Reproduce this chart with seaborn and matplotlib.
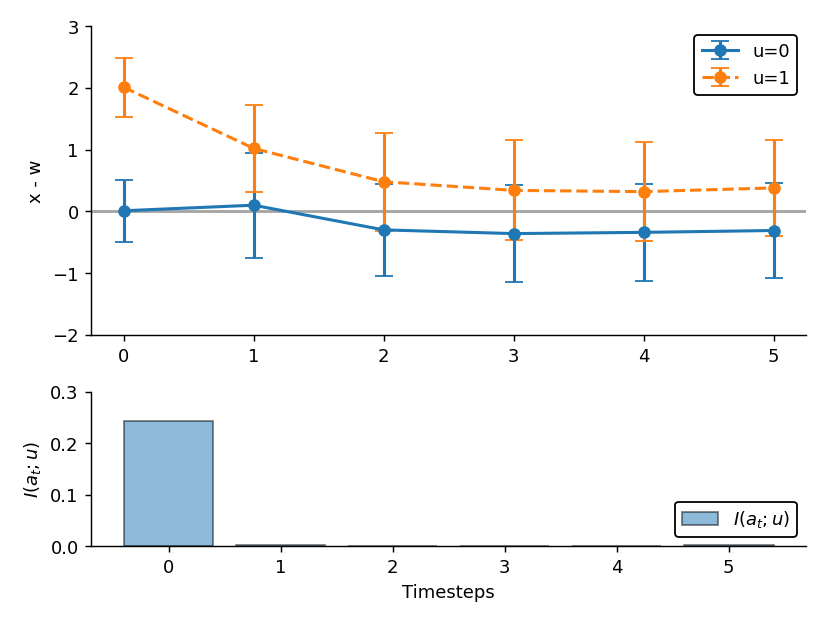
import numpy as np
import matplotlib
matplotlib.use("Agg")
import matplotlib.pyplot as plt
import seaborn as sns
import pandas as pd

# data
timesteps = [0, 1, 2, 3, 4, 5]
mean_u0 = [0.01, 0.10, -0.30, -0.36, -0.34, -0.31]
err_u0 = [0.50, 0.85, 0.75, 0.78, 0.79, 0.77]
mean_u1 = [2.01, 1.02, 0.48, 0.34, 0.32, 0.38]
err_u1 = [0.48, 0.70, 0.79, 0.81, 0.80, 0.78]
mutual_info = [0.243, 0.002, 0.001, 0.001, 0.0005, 0.002]

plt.rcParams["font.family"] = ["DejaVu Sans"]

fig, (ax1, ax2) = plt.subplots(
    2, 1, figsize=(6.4, 4.8), dpi=129.7, gridspec_kw={"height_ratios": [2, 1]}
)
fig.subplots_adjust(left=0.11, right=0.971, top=0.957, bottom=0.122, hspace=0.246)

# top panel: mean difference with error bars
ax1.axhline(0, color="gray", alpha=0.7, lw=1.6, zorder=0)
ax1.errorbar(
    timesteps, mean_u0, yerr=err_u0, fmt="-o", color="#1f77b4",
    lw=1.7, capsize=5, label="u=0",
)
ax1.errorbar(
    timesteps, mean_u1, yerr=err_u1, fmt="--o", color="#ff7f0e",
    lw=1.7, capsize=5, label="u=1",
)
ax1.set_ylim(-2, 3)
ax1.set_yticks([-2, -1, 0, 1, 2, 3])
ax1.set_xticks(timesteps)
ax1.set_ylabel("x - w")
ax1.legend(loc="upper right", edgecolor="black", framealpha=1)
sns.despine(ax=ax1)

# bottom panel: mutual information per timestep
df = pd.DataFrame({"t": timesteps, "mi": mutual_info})
sns.barplot(
    data=df, x="t", y="mi", native_scale=True, color="#1f77b4", saturation=1,
    alpha=0.5, edgecolor="black", linewidth=1, ax=ax2, label="$I(a_t; u)$",
)
ax2.autoscale(enable=True, axis="x")
ax2.margins(x=0.05)
ax2.set_ylim(0, 0.3)
ax2.set_yticks([0.0, 0.1, 0.2, 0.3])
ax2.set_xticks(timesteps)
ax2.set_xlabel("Timesteps")
ax2.set_ylabel("$I(a_t; u)$")
ax2.legend(loc="lower right", edgecolor="black", framealpha=1)
sns.despine(ax=ax2)

fig.savefig("out.png", dpi=129.7)
